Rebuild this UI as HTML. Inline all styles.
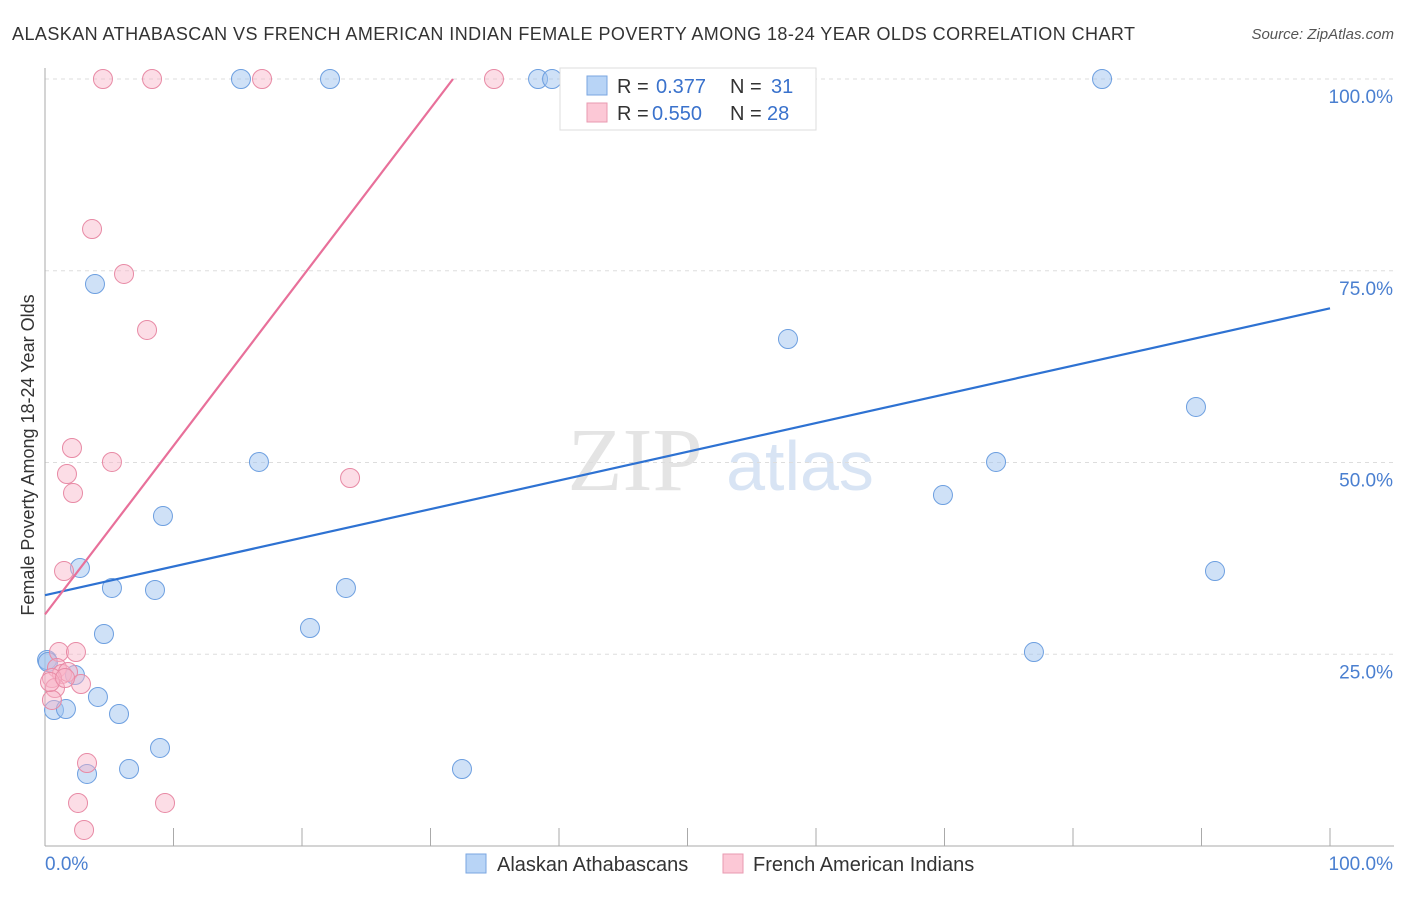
<!DOCTYPE html>
<html><head><meta charset="utf-8"><style>
body{margin:0;background:#fff;font-family:"Liberation Sans",sans-serif;}
</style></head><body>
<svg width="1406" height="892" xmlns="http://www.w3.org/2000/svg" id="svg">
<text x="12" y="40" font-size="18" fill="#333" textLength="1123" lengthAdjust="spacing">ALASKAN ATHABASCAN VS FRENCH AMERICAN INDIAN FEMALE POVERTY AMONG 18-24 YEAR OLDS CORRELATION CHART</text>
<text x="1394" y="39" font-size="15" fill="#555" font-style="italic" text-anchor="end">Source: ZipAtlas.com</text>
<text x="635" y="490" font-size="90" fill="#e4e4e4" font-family="Liberation Serif" text-anchor="middle">ZIP</text>
<text x="800" y="490" font-size="70" fill="#d8e4f4" text-anchor="middle">atlas</text>
<text transform="translate(34,455) rotate(-90)" font-size="18" fill="#333" text-anchor="middle">Female Poverty Among 18-24 Year Olds</text>
<g id="grid"></g><g id="pts"></g><g id="lines"></g>
<g>
<rect x="560" y="68" width="256" height="62" fill="#fff" stroke="#ddd"/>
<rect x="587" y="76" width="20" height="19" fill="#b8d4f6" stroke="#7aa6e0"/>
<rect x="587" y="103" width="20" height="19" fill="#fcc8d6" stroke="#e89ab0"/>
<text x="617" y="93" font-size="20" fill="#333">R = <tspan x="656" fill="#3a72cc">0.377</tspan></text>
<text x="730" y="93" font-size="20" fill="#333">N = <tspan x="771" fill="#3a72cc">31</tspan></text>
<text x="617" y="120" font-size="20" fill="#333">R = <tspan x="652" fill="#3a72cc">0.550</tspan></text>
<text x="730" y="120" font-size="20" fill="#333">N = <tspan x="767" fill="#3a72cc">28</tspan></text>
</g>
<g>
<rect x="466" y="854" width="20" height="19" fill="#b8d4f6" stroke="#7aa6e0"/>
<text x="497" y="871" font-size="20" fill="#333">Alaskan Athabascans</text>
<rect x="723" y="854" width="20" height="19" fill="#fcc8d6" stroke="#e89ab0"/>
<text x="753" y="871" font-size="20" fill="#333">French American Indians</text>
</g>
</svg>
<script>
const yTicks=[25,50,75,100];
const yTickLabels=["25.0%","50.0%","75.0%","100.0%"];
const blueX=[15.25,22.18,38.37,39.46,82.26,3.89,57.82,89.57,16.65,74.01,69.88,9.18,2.72,91.05,5.21,8.56,23.42,4.59,20.62,76.96,0.16,2.33,4.12,0.70,1.63,5.76,8.95,6.54,32.45,3.27,0.23];
const blueY=[100,100,100,100,100,73.27,66.10,57.24,50.07,50.07,45.76,43.02,36.25,35.85,33.64,33.38,33.64,27.64,28.42,25.29,24.25,22.29,19.43,17.73,17.86,17.21,12.78,10.04,10.04,9.39,23.99];
const pinkX=[4.51,8.33,16.89,34.94,3.66,6.15,7.94,2.10,5.21,1.71,2.18,23.74,1.48,1.09,2.41,0.93,1.32,1.79,0.54,2.80,0.78,0.54,3.27,2.57,9.34,3.04,0.39,1.56];
const pinkY=[100,100,100,100,80.44,74.58,67.28,51.89,50.07,48.50,46.02,47.98,35.85,25.29,25.29,23.21,22.43,22.69,21.90,21.12,20.60,19.04,10.82,5.61,5.61,2.09,21.38,21.90];
const blueLine=[[0,32.7],[100,70.1]];
const pinkLine=[[0,30.2],[31.75,100]];
const NS="http://www.w3.org/2000/svg";
const X0=45,X1=1330,Y0=846,Y100=79;
const sx=v=>X0+v/100*(X1-X0), sy=v=>Y0-v/100*(Y0-Y100);
function mk(t,a,p){const e=document.createElementNS(NS,t);for(const k in a)e.setAttribute(k,a[k]);p.appendChild(e);return e;}
const g=document.getElementById('grid');
yTicks.forEach((t,i)=>{
 const l=mk('line',{x1:X0,x2:1394,y1:sy(t),y2:sy(t),stroke:'#ddd','stroke-dasharray':'4,4'},g);
 
 
 const tx=mk('text',{x:1393,y:sy(t)+24,'font-size':19,fill:'#4a7fd0','text-anchor':'end'},g);
 tx.textContent=yTickLabels[i];
 
 
});
const ax=mk('line',{x1:X0,x2:1394,y1:Y0,y2:Y0,stroke:'#aaa'},g);


const ay=mk('line',{x1:X0,x2:X0,y1:68,y2:Y0,stroke:'#aaa'},g);


for(let k=1;k<=10;k++){const t=mk('line',{x1:sx(k*10),x2:sx(k*10),y1:828,y2:Y0,stroke:'#aaa'},g);
 
 }
[["0.0%",45,'start'],["100.0%",1393,'end']].forEach(a=>{const t=mk('text',{x:a[1],y:870,'font-size':19,fill:'#4a7fd0','text-anchor':a[2]},g);t.textContent=a[0];
 
 });
const p=document.getElementById('pts');
blueX.forEach((v,i)=>{const c=mk('circle',{cx:sx(v),cy:sy(blueY[i]),r:9.5,fill:'rgba(160,196,240,0.5)',stroke:'#6d9fe0','stroke-width':1},p);
 
 });
pinkX.forEach((v,i)=>{const c=mk('circle',{cx:sx(v),cy:sy(pinkY[i]),r:9.5,fill:'rgba(248,180,200,0.45)',stroke:'#e88aa5','stroke-width':1},p);
 
 });
const L=document.getElementById('lines');
const bl=mk('line',{x1:sx(blueLine[0][0]),y1:sy(blueLine[0][1]),x2:sx(blueLine[1][0]),y2:sy(blueLine[1][1]),stroke:'#2e72d2','stroke-width':2.2},L);


const pl=mk('line',{x1:sx(pinkLine[0][0]),y1:sy(pinkLine[0][1]),x2:sx(pinkLine[1][0]),y2:sy(pinkLine[1][1]),stroke:'#e8709a','stroke-width':2.2},L);


</script>
</body></html>
